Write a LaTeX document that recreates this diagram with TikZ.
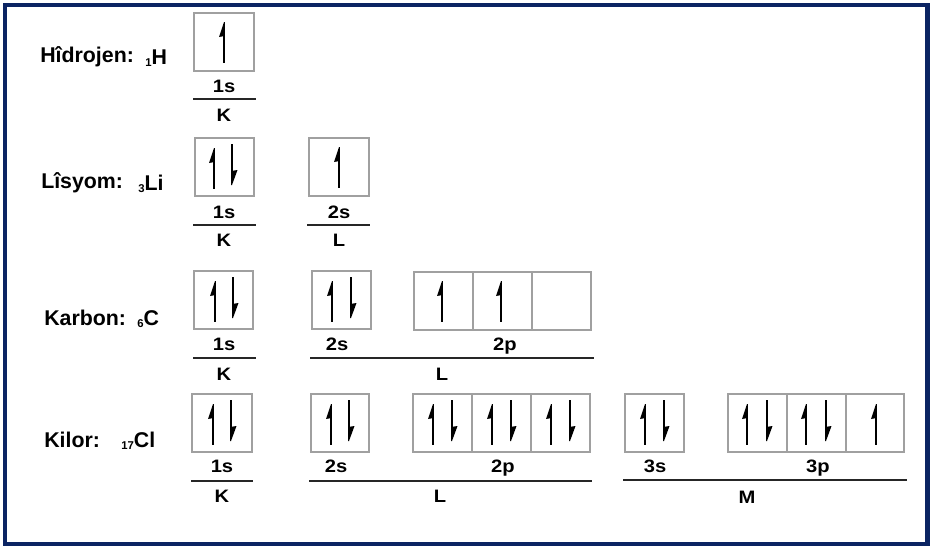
\documentclass[tikz,border=0pt]{standalone}
\usepackage{fontspec}
\setmainfont{Liberation Sans}
\definecolor{navy}{HTML}{0B2463}
\definecolor{boxgray}{HTML}{A0A0A0}
\newcommand{\wide}[2]{\scalebox{#1}[1]{#2}}
\newcommand{\zsub}[1]{\raisebox{-0.15ex}{\fontsize{8.5pt}{8.5pt}\selectfont #1}}
\tikzset{
  orb/.style={draw=boxgray, line width=0.8, fill=white},
  shell/.style={draw=black!85, line width=1.4},
  lbl/.style={font=\fontsize{13.5pt}{13.5pt}\selectfont\bfseries, inner sep=0pt, anchor=base},
  elem/.style={font=\fontsize{16pt}{16pt}\selectfont\bfseries, inner sep=0pt, anchor=west},
  pics/spinup/.style={code={
    \draw[line width=1.8] (0,-18) -- (0,21);
    \fill (0,-20) -- (-5,-5) -- (0.8,-6) -- (0.8,-20) -- cycle;
  }},
  pics/spindown/.style={code={
    \draw[line width=1.8] (0,-21) -- (0,18);
    \fill (0,20) -- (5.5,5) -- (-0.8,6) -- (-0.8,20) -- cycle;
  }},
}
\begin{document}
\begin{tikzpicture}[x=0.75pt,y=-0.75pt]
\useasboundingbox (0,0) rectangle (931,546);
\draw[navy, line width=3.2] (5,5) rectangle (927.5,544);

% ---------- Hydrogen ----------
\node[elem] (hname) at (40,57) {Hîdrojen:};
\node[elem] (hsym) at (145,58) {\zsub{1}H};
\draw[orb] (194,13) rectangle (254,71);
\pic at (224,42) {spinup};
\node[lbl] (h1s) at (224,92.5) {\wide{1.12}{1s}};
\draw[shell] (193,99) -- (256,99);
\node[lbl] (hK) at (224,121.5) {\wide{1.12}{K}};

% ---------- Lithium ----------
\node[elem] (liname) at (41,183) {Lîsyom:};
\node[elem] (lisym) at (138,184) {\zsub{3}Li};
\draw[orb] (195,138) rectangle (254,196);
\pic at (214,168) {spinup};
\pic at (232,165) {spindown};
\node[lbl] (li1s) at (224,218.5) {\wide{1.12}{1s}};
\draw[shell] (193,225) -- (256,225);
\node[lbl] (liK) at (224,246.5) {\wide{1.12}{K}};
\draw[orb] (309,138) rectangle (369,196);
\pic at (339,167) {spinup};
\node[lbl] (li2s) at (339,218.5) {\wide{1.12}{2s}};
\draw[shell] (307,225) -- (370,225);
\node[lbl] (liL) at (339,246.5) {\wide{1.12}{L}};

% ---------- Carbon ----------
\node[elem] (cname) at (44,318) {Karbon:};
\node[elem] (csym) at (137,319) {\zsub{6}C};
\draw[orb] (194,271) rectangle (253,329);
\pic at (215,301) {spinup};
\pic at (233,298) {spindown};
\node[lbl] (c1s) at (224,350.5) {\wide{1.12}{1s}};
\draw[shell] (193,358) -- (256,358);
\node[lbl] (cK) at (224,380.5) {\wide{1.12}{K}};
\draw[orb] (312,271) rectangle (371,329);
\pic at (332,301) {spinup};
\pic at (351,298) {spindown};
\node[lbl] (c2s) at (337,350.5) {\wide{1.12}{2s}};
\draw[orb] (414,272) rectangle (473,330);
\draw[orb] (473,272) rectangle (532,330);
\draw[orb] (532,272) rectangle (591,330);
\pic at (442,301) {spinup};
\pic at (501,301) {spinup};
\node[lbl] (c2p) at (505,350.5) {\wide{1.12}{2p}};
\draw[shell] (310,358) -- (594,358);
\node[lbl] (cL) at (442,380.5) {\wide{1.12}{L}};

% ---------- Chlorine ----------
\node[elem] (clname) at (44,440) {Kilor:};
\node[elem] (clsym) at (121,441) {\zsub{17}Cl};
\draw[orb] (192,394) rectangle (252,452);
\pic at (213,424) {spinup};
\pic at (231,421) {spindown};
\node[lbl] (cl1s) at (222,472.5) {\wide{1.12}{1s}};
\draw[shell] (191,481) -- (253,481);
\node[lbl] (clK) at (222,502.5) {\wide{1.12}{K}};
\draw[orb] (311,394) rectangle (369,452);
\pic at (331,424) {spinup};
\pic at (349,421) {spindown};
\node[lbl] (cl2s) at (336,472.5) {\wide{1.12}{2s}};
\draw[orb] (413,394) rectangle (472,452);
\draw[orb] (472,394) rectangle (531,452);
\draw[orb] (531,394) rectangle (590,452);
\pic at (433,424) {spinup};
\pic at (452,421) {spindown};
\pic at (492,424) {spinup};
\pic at (511,421) {spindown};
\pic at (551,424) {spinup};
\pic at (570,421) {spindown};
\node[lbl] (cl2p) at (503,472.5) {\wide{1.12}{2p}};
\draw[shell] (309,481) -- (592,481);
\node[lbl] (clL) at (440,502.5) {\wide{1.12}{L}};
\draw[orb] (625,394) rectangle (684,452);
\pic at (645,424) {spinup};
\pic at (664,421) {spindown};
\node[lbl] (cl3s) at (655,472.5) {\wide{1.12}{3s}};
\draw[orb] (728,394) rectangle (787,452);
\draw[orb] (787,394) rectangle (846,452);
\draw[orb] (846,394) rectangle (904,452);
\pic at (747,424) {spinup};
\pic at (767,421) {spindown};
\pic at (806,424) {spinup};
\pic at (826,421) {spindown};
\pic at (876,424) {spinup};
\node[lbl] (cl3p) at (818,472.5) {\wide{1.12}{3p}};
\draw[shell] (623,480) -- (907,480);
\node[lbl] (clM) at (747,503.5) {\wide{1.12}{M}};
\end{tikzpicture}
\end{document}
